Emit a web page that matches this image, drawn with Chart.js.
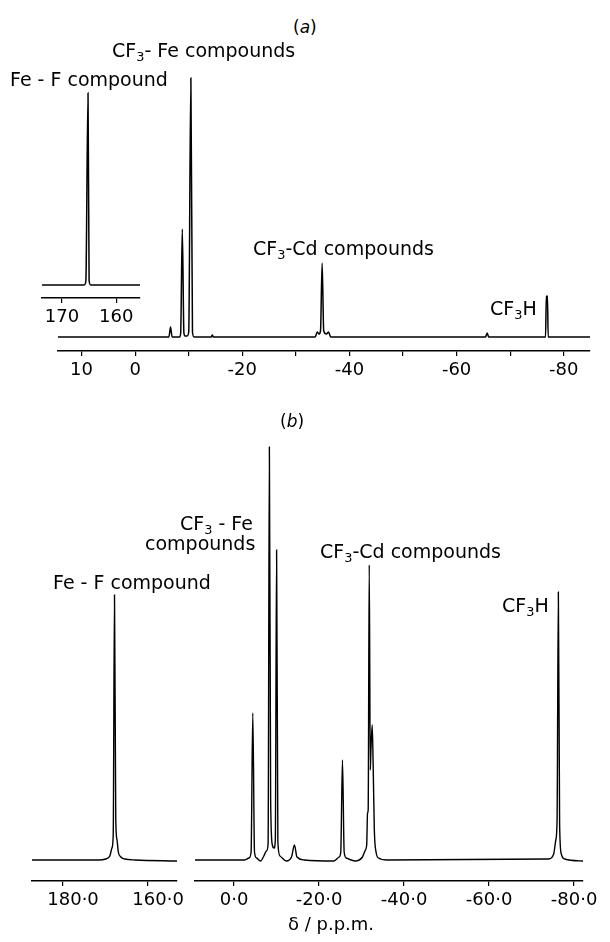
<!DOCTYPE html>
<html>
<head>
<meta charset="utf-8">
<script src="https://cdn.jsdelivr.net/npm/chart.js@4.4.1/dist/chart.umd.min.js"></script>
<style>
  html, body { margin: 0; padding: 0; background: #fff; }
  #page { position: relative; width: 610px; height: 942px; overflow: hidden; font-family: 'DejaVu Sans', sans-serif; color: #000; }
  #page canvas { position: absolute; }
  .lbl { position: absolute; white-space: nowrap; line-height: 1; font-size: 19px; }
  .lbl sub { font-size: 0.68em; vertical-align: baseline; position: relative; top: 0.32em; }
  .panel { font-size: 17px; }
</style>
</head>
<body>
<div id="page">
  <canvas id="a-inset" width="160" height="260" style="left:0;top:70px"></canvas>
  <canvas id="a-main" width="570" height="340" style="left:40px;top:50px"></canvas>
  <canvas id="b-inset" width="190" height="370" style="left:0;top:550px"></canvas>
  <canvas id="b-main" width="430" height="500" style="left:180px;top:420px"></canvas>

  <!-- (a) labels -->
  <div class="lbl panel" style="left:293px;top:19px">(<i>a</i>)</div>
  <div class="lbl" style="left:112px;top:41px">CF<sub>3</sub>- Fe compounds</div>
  <div class="lbl" style="left:10px;top:70px">Fe - F compound</div>
  <div class="lbl" style="left:253px;top:239px">CF<sub>3</sub>-Cd compounds</div>
  <div class="lbl" style="left:490px;top:299px">CF<sub>3</sub>H</div>

  <!-- (b) labels -->
  <div class="lbl panel" style="left:280px;top:413px">(<i>b</i>)</div>
  <div class="lbl" style="left:180px;top:514px">CF<sub>3</sub> - Fe</div>
  <div class="lbl" style="left:145px;top:534px">compounds</div>
  <div class="lbl" style="left:53px;top:573px">Fe - F compound</div>
  <div class="lbl" style="left:320px;top:542px">CF<sub>3</sub>-Cd compounds</div>
  <div class="lbl" style="left:502px;top:596px">CF<sub>3</sub>H</div>
  <div class="lbl" style="left:288px;top:915px;font-size:18px">&delta; / p.p.m.</div>
</div>

<script>
/* ---- Spectrum (a): chemical shift (p.p.m.) and intensity ---- */
var aMainPpm = [14.4, -6.3, -6.6, -6.9, -8.3, -8.5, -8.8, -9.1, -9.3, -9.7, -10.0, -10.4, -10.7, -11.0,
                -14.2, -14.4, -14.6, -33.6, -34.0, -34.3, -34.6, -34.9, -35.2, -35.7, -36.1, -36.5,
                -65.4, -65.7, -66.0, -76.6, -76.75, -76.85, -76.95, -77.1, -84.9];
var aMainInt = [0, 0, 10, 0, 0, 4, 108, 4, 1, 1, 5, 259, 5, 0,
                0, 2, 0, 0, 5, 3, 6, 74, 6, 3, 5, 0,
                0, 4, 0, 0, 41, 38, 41, 0, 0];
var aMainTicks = [10, 0, -10, -20, -30, -40, -50, -60, -70, -80];
var aMainTickLabels = [10, 0, -20, -40, -60, -80];

var aInsetPpm = [173.7, 165.9, 165.6, 165.2, 165.0, 164.7, 155.6];
var aInsetInt = [0, 0, 4, 192, 4, 0, 0];
var aInsetTicks = [170, 160];

/* ---- Spectrum (b) ---- */
var bMainPpm = [9.2, -2.5, -3.5, -4.0, -4.4, -4.8, -5.3, -6.2, -7.0, -7.6, -8.0, -8.3, -8.6, -9.0, -9.4, -9.7,
                -10.0, -10.3, -10.8, -12.3, -13.5, -14.2, -14.8, -16.5, -23.5, -24.7, -25.1, -25.5, -25.9,
                -26.4, -28.5, -30.2, -30.9, -31.2, -31.4, -31.55, -31.8, -32.05, -32.2, -32.5, -32.7, -33.0,
                -33.4, -34.0, -36.0, -74.0, -75.2, -75.7, -76.0, -76.3, -76.6, -77.0, -77.8, -82.1];
var bMainInt = [0, 0, 2, 8, 147, 8, 2, -1, 4, 9, 16, 413, 60, 15, 12, 20,
                310, 18, 4, -1, 3, 15, 3, 0, -1, 3, 8, 100, 8,
                2, -1, 3, 10, 15, 47, 50, 295, 90, 110, 135, 100, 30,
                8, 2, 0, 1, 6, 20, 40, 268, 35, 6, 1, -1];
var bMainTicks = [0, -20, -40, -60, -80];

var bInsetPpm = [187.3, 171.5, 170.0, 169.0, 168.5, 168.2, 167.9, 167.6, 167.3, 167.0, 166.4, 165.5, 163.0, 153.2];
var bInsetInt = [0, 0, 1, 4, 12, 25, 265, 40, 20, 8, 3, 1, 0, -1];
var bInsetTicks = [180, 160];

var INK = '#000';
Chart.defaults.font.family = "'DejaVu Sans', sans-serif";
Chart.defaults.color = INK;

function toPoints(xs, ys) {
  return xs.map(function (x, i) { return { x: x, y: ys[i] }; });
}

function oneDecimal(v) { return v.toFixed(1).replace('.', '\u00b7'); }

function makeSpectrum(id, o) {
  return new Chart(document.getElementById(id), {
    type: 'line',
    data: {
      datasets: [{
        data: toPoints(o.ppm, o.intensity),
        borderColor: INK,
        borderWidth: o.lineWidth,
        pointRadius: 0,
        cubicInterpolationMode: 'monotone',
        fill: false
      }]
    },
    options: {
      responsive: false,
      animation: false,
      devicePixelRatio: 1,
      layout: { padding: o.padding },
      plugins: { legend: { display: false }, tooltip: { enabled: false } },
      scales: {
        x: {
          type: 'linear',
          reverse: true,
          min: o.xMin,
          max: o.xMax,
          afterFit: function (s) { s.height = o.axisHeight; s.paddingLeft = 0; s.paddingRight = 0; },
          afterBuildTicks: function (s) { s.ticks = o.ticks.map(function (v) { return { value: v }; }); },
          ticks: {
            callback: o.format,
            color: INK,
            font: { size: 18 },
            padding: 4,
            labelOffset: o.labelOffset || 0,
            maxRotation: 0,
            autoSkip: false
          },
          grid: { drawOnChartArea: false, tickLength: 5, color: INK, lineWidth: 1.2 },
          border: { color: INK, width: 1.4 }
        },
        y: { display: false, min: o.yMin, max: o.yMax }
      }
    }
  });
}

makeSpectrum('a-main', {
  ppm: aMainPpm, intensity: aMainInt, ticks: aMainTicks,
  format: function (v) { return aMainTickLabels.indexOf(v) >= 0 ? String(v) : ''; },
  xMin: -84.9, xMax: 14.4, yMin: -14, yMax: 277,
  padding: { left: 18, right: 20, top: 10, bottom: 0 }, axisHeight: 39, lineWidth: 1.5
});

makeSpectrum('a-inset', {
  ppm: aInsetPpm, intensity: aInsetInt, ticks: aInsetTicks,
  format: function (v) { return String(v); },
  xMin: 155.6, xMax: 173.7, yMin: -13, yMax: 205,
  padding: { left: 42, right: 20, top: 10, bottom: 0 }, axisHeight: 32, lineWidth: 1.5
});

makeSpectrum('b-main', {
  ppm: bMainPpm, intensity: bMainInt, ticks: bMainTicks,
  format: oneDecimal,
  xMin: -82.1, xMax: 9.2, yMin: -21, yMax: 430,
  padding: { left: 15, right: 27, top: 10, bottom: 0 }, axisHeight: 39, lineWidth: 1.4
});

makeSpectrum('b-inset', {
  ppm: bInsetPpm, intensity: bInsetInt, ticks: bInsetTicks,
  format: oneDecimal, labelOffset: 10,
  xMin: 153.2, xMax: 187.3, yMin: -21, yMax: 300,
  padding: { left: 32, right: 13, top: 10, bottom: 0 }, axisHeight: 39, lineWidth: 1.4
});
</script>
</body>
</html>
